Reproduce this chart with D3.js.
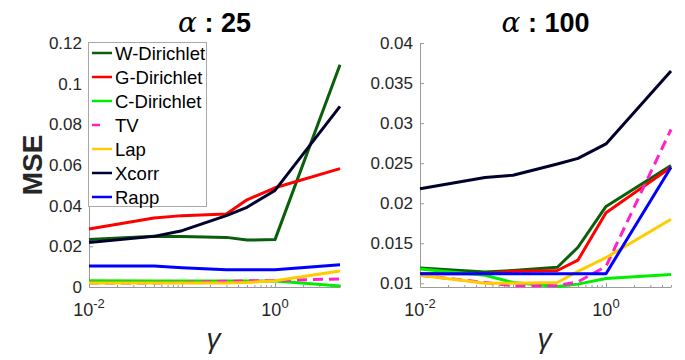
<!DOCTYPE html>
<html>
<head>
<meta charset="utf-8">
<script src="https://cdn.jsdelivr.net/npm/d3@7"></script>
<style>
  html, body { margin: 0; padding: 0; background: #fff; }
  svg { display: block; }
  text { font-family: "Liberation Sans", Arial, sans-serif; }
</style>
</head>
<body>
<svg id="chart" width="685" height="360"></svg>
<script>
// Regularisation weights on the x axis
const gammas = [0.01, 0.05, 0.1, 0.3, 0.5, 1, 5];

// Method names, in drawing order
const methods = ["W-Dirichlet", "G-Dirichlet", "C-Dirichlet", "TV", "Lap", "Xcorr", "Rapp"];

// MSE per method, alpha = 25
const mseW25     = [0.0233, 0.0249, 0.0248, 0.0244, 0.0231, 0.0233, 0.1093];
const mseG25     = [0.0285, 0.0339, 0.0351, 0.0359, 0.0429, 0.0488, 0.0582];
const mseC25     = [0.0031, 0.0030, 0.0030, 0.0029, 0.0029, 0.0030, 0.0005];
const mseTV25    = [0.0020, 0.0020, 0.0022, 0.0028, 0.0030, 0.0032, 0.0040];
const mseLap25   = [0.0020, 0.0020, 0.0020, 0.0020, 0.0022, 0.0031, 0.0079];
const mseXcorr25 = [0.0219, 0.0249, 0.0277, 0.0351, 0.0392, 0.0475, 0.0888];
const mseRapp25  = [0.0103, 0.0103, 0.0095, 0.0085, 0.0085, 0.0085, 0.0110];

// MSE per method, alpha = 100
const mseW100     = [0.0119, 0.0114, 0.0116, 0.0120, 0.0145, 0.0196, 0.0247];
const mseG100     = [0.0112, 0.0112, 0.0115, 0.0116, 0.0129, 0.0188, 0.0245];
const mseC100     = [0.0118, 0.0110, 0.0101, 0.0096, 0.0099, 0.0106, 0.0111];
const mseTV100    = [0.0110, 0.0101, 0.0097, 0.0097, 0.0102, 0.0121, 0.0292];
const mseLap100   = [0.0110, 0.0100, 0.0100, 0.0101, 0.0115, 0.0132, 0.0180];
const mseXcorr100 = [0.0218, 0.0232, 0.0235, 0.0249, 0.0256, 0.0274, 0.0365];
const mseRapp100  = [0.0112, 0.0112, 0.0112, 0.0112, 0.0112, 0.0112, 0.0245];

// Tick values
const yTicks25  = [0, 0.02, 0.04, 0.06, 0.08, 0.1, 0.12];
const yTicks100 = [0.01, 0.015, 0.02, 0.025, 0.03, 0.035, 0.04];
const xMajorTicks = [0.01, 0.1, 1];
const xLabelExponents = [-2, 0];

// Line styling per method
const colors = ["#0a5f0a", "#ff0000", "#00ee00", "#ff22cc", "#ffcc00", "#00002e", "#0000ff"];
const dashes = [null, null, null, "10,6", null, null, null];

const panels = [
  { alpha: "25",  series: [mseW25, mseG25, mseC25, mseTV25, mseLap25, mseXcorr25, mseRapp25],
    yDomain: [0, 0.12], yTicks: yTicks25, left: 89, legend: true },
  { alpha: "100", series: [mseW100, mseG100, mseC100, mseTV100, mseLap100, mseXcorr100, mseRapp100],
    yDomain: [0.00954, 0.04], yTicks: yTicks100, left: 420, legend: false }
];

const svg = d3.select("#chart");
const plotW = 251, plotTop = 43, plotBottom = 287;
const axisColor = "#9a9a9a", labelColor = "#262626";
const greekFont = "'DejaVu Serif', 'Liberation Serif', serif";

// Minor ticks for the log axis: 2..9 times each decade
const minorTicks = [];
[0.01, 0.1, 1].forEach(d => { for (let k = 2; k <= 9; k++) if (d * k <= 5) minorTicks.push(d * k); });

panels.forEach(p => {
  const x = d3.scaleLog().domain([0.01, 5]).range([p.left, p.left + plotW]);
  const y = d3.scaleLinear().domain(p.yDomain).range([plotBottom, plotTop]);
  const g = svg.append("g");

  // y axis
  const yAxis = g.append("g").attr("transform", `translate(${p.left},0)`)
    .call(d3.axisLeft(y).tickValues(p.yTicks).tickSizeInner(-4).tickSizeOuter(0).tickPadding(7)
      .tickFormat(d => d3.format("~g")(+d.toFixed(4))));
  yAxis.select(".domain").attr("stroke", axisColor);
  yAxis.selectAll(".tick line").attr("stroke", axisColor);
  yAxis.selectAll(".tick text").attr("fill", labelColor).attr("font-size", 17);

  // x axis, minor ticks
  const xMinor = g.append("g").attr("transform", `translate(0,${plotBottom})`)
    .call(d3.axisBottom(x).tickValues(minorTicks).tickSizeInner(-2).tickSizeOuter(0).tickFormat(""));
  xMinor.select(".domain").remove();
  xMinor.selectAll(".tick line").attr("stroke", axisColor);

  // x axis, major ticks
  const xAxis = g.append("g").attr("transform", `translate(0,${plotBottom})`)
    .call(d3.axisBottom(x).tickValues(xMajorTicks).tickSizeInner(-4).tickSizeOuter(0).tickFormat(""));
  xAxis.select(".domain").attr("stroke", axisColor);
  xAxis.selectAll(".tick line").attr("stroke", axisColor);

  // power-of-ten labels
  xLabelExponents.forEach(e => {
    const t = g.append("text")
      .attr("x", x(Math.pow(10, e)))
      .attr("y", plotBottom + 29)
      .attr("text-anchor", "middle")
      .attr("fill", labelColor)
      .attr("font-size", 18);
    t.append("tspan").text("10");
    t.append("tspan").attr("dy", -8).attr("font-size", 13).text(String(e));
  });

  // series lines
  const line = d3.line().x((d, i) => x(gammas[i])).y(d => y(d));
  p.series.forEach((vals, k) => {
    g.append("path")
      .datum(vals)
      .attr("d", line)
      .attr("fill", "none")
      .attr("stroke", colors[k])
      .attr("stroke-width", 3)
      .attr("stroke-linejoin", "round")
      .attr("stroke-dasharray", dashes[k]);
  });

  // title
  const cx = p.left + plotW / 2;
  const title = g.append("text").attr("x", cx).attr("y", 32).attr("text-anchor", "middle")
    .attr("fill", "#000");
  title.append("tspan").attr("font-family", greekFont)
    .attr("font-style", "italic").attr("font-size", 28).text("α");
  title.append("tspan").attr("font-weight", "bold").attr("font-size", 27).text(" : " + p.alpha);

  // x axis title
  g.append("text").attr("x", cx - 1).attr("y", 348).attr("text-anchor", "middle")
    .attr("font-family", greekFont)
    .attr("font-style", "italic").attr("font-size", 28).attr("fill", "#262626").text("γ");

  // legend
  if (p.legend) {
    const lg = g.append("g");
    lg.append("rect").attr("x", p.left - 0.5).attr("y", plotTop - 0.5).attr("width", 118).attr("height", 164)
      .attr("fill", "#fff").attr("stroke", "#a8a8a8").attr("stroke-width", 1);
    methods.forEach((m, k) => {
      const ly = 53 + k * 24;
      lg.append("line")
        .attr("x1", p.left + 3).attr("x2", dashes[k] ? p.left + 11 : p.left + 23)
        .attr("y1", ly).attr("y2", ly)
        .attr("stroke", colors[k]).attr("stroke-width", 2.5);
      lg.append("text").attr("x", p.left + 26).attr("y", ly + 6.5)
        .attr("font-size", 18.5).attr("fill", "#000").text(m);
    });
  }
});

// shared y axis title
svg.append("text")
  .attr("transform", "translate(42,165) rotate(-90)")
  .attr("text-anchor", "middle")
  .attr("font-weight", "bold")
  .attr("font-size", 28)
  .attr("fill", "#262626")
  .text("MSE");
</script>
</body>
</html>
